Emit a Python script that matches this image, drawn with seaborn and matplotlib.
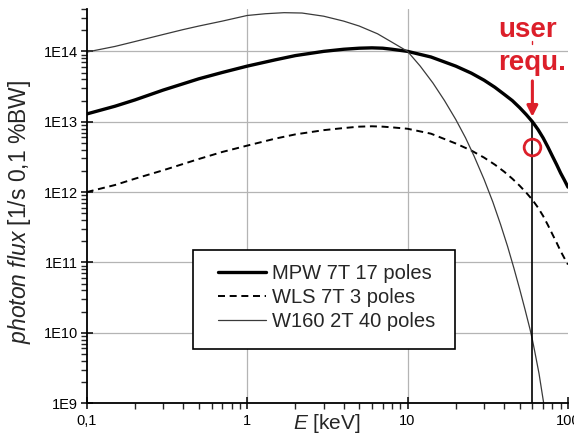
import numpy as np
import pandas as pd
import matplotlib
matplotlib.use("Agg")
import matplotlib.pyplot as plt
from matplotlib.patches import Rectangle
from matplotlib.ticker import LogLocator, NullFormatter
import seaborn as sns

# Photon energy [keV] and decadic log of the flux [1/s 0.1%BW] per source
energy_mpw = [0.1, 0.15, 0.2, 0.3, 0.4, 0.5, 0.7, 1, 1.5, 2, 3, 4, 5, 6, 7, 8,
              10, 14, 20, 25, 30, 35, 40, 45, 50, 55, 60, 65, 70, 75, 80, 85,
              90, 95, 100]
log_flux_mpw = [13.11, 13.22, 13.31, 13.45, 13.54, 13.61, 13.70, 13.79, 13.88,
                13.94, 14.00, 14.03, 14.045, 14.05, 14.045, 14.03, 14.00,
                13.92, 13.79, 13.69, 13.59, 13.49, 13.39, 13.30, 13.20, 13.10,
                13.00, 12.89, 12.77, 12.64, 12.51, 12.39, 12.27, 12.17, 12.07]

energy_wls = energy_mpw
log_flux_wls = [12.00, 12.10, 12.19, 12.31, 12.40, 12.47, 12.57, 12.66, 12.76,
                12.82, 12.88, 12.91, 12.93, 12.935, 12.93, 12.92, 12.90,
                12.83, 12.69, 12.59, 12.49, 12.39, 12.29, 12.19, 12.09, 11.99,
                11.89, 11.78, 11.66, 11.53, 11.40, 11.28, 11.16, 11.06, 10.97]

energy_w160 = [0.1, 0.15, 0.2, 0.3, 0.4, 0.5, 0.7, 1, 1.3, 1.7, 2.2, 3, 4, 5,
               6.5, 8, 10, 12, 14.4, 17, 20, 23, 26, 30, 34, 38, 42, 46, 50,
               54, 58, 60, 62, 66, 70, 74]
log_flux_w160 = [13.99, 14.07, 14.14, 14.24, 14.31, 14.36, 14.43, 14.51,
                 14.535, 14.55, 14.545, 14.50, 14.43, 14.36, 14.25, 14.13,
                 14.00, 13.79, 13.55, 13.30, 13.03, 12.77, 12.51, 12.18, 11.86,
                 11.54, 11.23, 10.92, 10.62, 10.33, 10.05, 9.90, 9.74, 9.42,
                 9.05, 8.70]

series_labels = ["MPW 7T 17 poles", "WLS 7T 3 poles", "W160 2T 40 poles"]

x_ticks = [0.1, 1, 10, 100]
x_tick_labels = ["0,1", "1", "10", "100"]
y_ticks = [1e9, 1e10, 1e11, 1e12, 1e13, 1e14]
y_tick_labels = ["1E9", "1E10", "1E11", "1E12", "1E13", "1E14"]

# Required photon energy and the marked flux levels
req_energy = 60
req_flux = 1e13
req_marker_flux = 4.4e12

RED = "#dc1f2a"

sns.set_style("ticks")
plt.rcParams["font.family"] = ["Liberation Sans", "DejaVu Sans"]
plt.rcParams["mathtext.fontset"] = "custom"
plt.rcParams["mathtext.rm"] = "Liberation Sans"
plt.rcParams["mathtext.it"] = "Liberation Sans:italic"

df_mpw = pd.DataFrame({"E": energy_mpw, "flux": 10.0 ** np.array(log_flux_mpw)})
df_wls = pd.DataFrame({"E": energy_wls, "flux": 10.0 ** np.array(log_flux_wls)})
df_w160 = pd.DataFrame({"E": energy_w160,
                        "flux": 10.0 ** np.array(log_flux_w160)})

fig = plt.figure(figsize=(5.74, 4.42), dpi=100)
ax = fig.add_axes([0.151, 0.088, 0.8385, 0.8916])

ax.set_xscale("log")
ax.set_yscale("log")

sns.lineplot(data=df_mpw, x="E", y="flux", ax=ax, color="black", lw=2.4,
             label=series_labels[0])
sns.lineplot(data=df_wls, x="E", y="flux", ax=ax, color="black", lw=1.4,
             label=series_labels[1])
ax.lines[-1].set_dashes([3.6, 2.4])
sns.lineplot(data=df_w160, x="E", y="flux", ax=ax, color="#3a3a3a", lw=0.9,
             label=series_labels[2])

ax.set_xlim(0.1, 100)
ax.set_ylim(1e9, 4e14)

# grid: decades on y, 1 and 10 keV on x
for yv in y_ticks[1:]:
    ax.axhline(yv, color="#b4b4b4", lw=0.9, zorder=0)
for xv in x_ticks[1:3]:
    ax.axvline(xv, color="#b4b4b4", lw=0.9, zorder=0)

ax.set_xticks(x_ticks, labels=x_tick_labels)
ax.set_yticks(y_ticks, labels=y_tick_labels)
ax.xaxis.set_minor_locator(LogLocator(base=10, subs=np.arange(2, 10)))
ax.yaxis.set_minor_locator(LogLocator(base=10, subs=np.arange(2, 10)))
ax.xaxis.set_minor_formatter(NullFormatter())
ax.yaxis.set_minor_formatter(NullFormatter())
ax.tick_params(which="major", direction="inout", length=8, width=1.1,
               labelsize=10.5, colors="black", pad=2)
ax.tick_params(which="minor", direction="out", length=4, width=1.0)
ax.tick_params(axis="x", which="major", pad=4)

for side in ("top", "right"):
    ax.spines[side].set_visible(False)
for side in ("left", "bottom"):
    ax.spines[side].set_linewidth(1.3)
    ax.spines[side].set_color("black")

ax.set_xlabel(r"$\it{E}$ [keV]", fontsize=15)
ax.xaxis.set_label_coords(0.499, -0.022)
ax.xaxis.label.set_va("top")
ax.set_ylabel(r"$\it{photon\ flux}$ [1/s 0,1 %BW]", fontsize=16.5)
ax.yaxis.set_label_coords(-0.112, 0.484)

# required energy marker
ax.plot([req_energy, req_energy], [req_flux, 1e9], color="black", lw=1.2,
        zorder=3)
ax.annotate("", xy=(req_energy, 10 ** 13.07), xytext=(req_energy, 10 ** 13.58),
            arrowprops=dict(arrowstyle="-|>", color=RED, lw=2.2,
                            mutation_scale=16, shrinkA=0, shrinkB=0))
ax.plot([req_energy, req_energy], [10 ** 14.10, 10 ** 14.15], color=RED,
        lw=1.0)
ax.plot([req_energy], [req_marker_flux], marker="o", ms=12, mfc="none",
        mec=RED, mew=2, zorder=4)
ax.text(56, 10 ** 14.20, "user", color=RED, fontsize=20, fontweight="bold",
        ha="center", va="baseline")
ax.text(60, 10 ** 13.74, "requ.", color=RED, fontsize=20, fontweight="bold",
        ha="center", va="baseline")

# legend with a square frame
ax.add_patch(Rectangle((0.221, 0.137), 0.544, 0.251, transform=ax.transAxes,
                       facecolor="white", edgecolor="black", lw=1.2, zorder=5))
leg = ax.legend(loc="upper left", bbox_to_anchor=(0.273, 0.352), frameon=False,
                fontsize=14.5, handlelength=2.4, handletextpad=0.3,
                borderpad=0, borderaxespad=0, labelspacing=0.25)
leg.set_zorder(6)

fig.savefig("out.png", dpi=100)
